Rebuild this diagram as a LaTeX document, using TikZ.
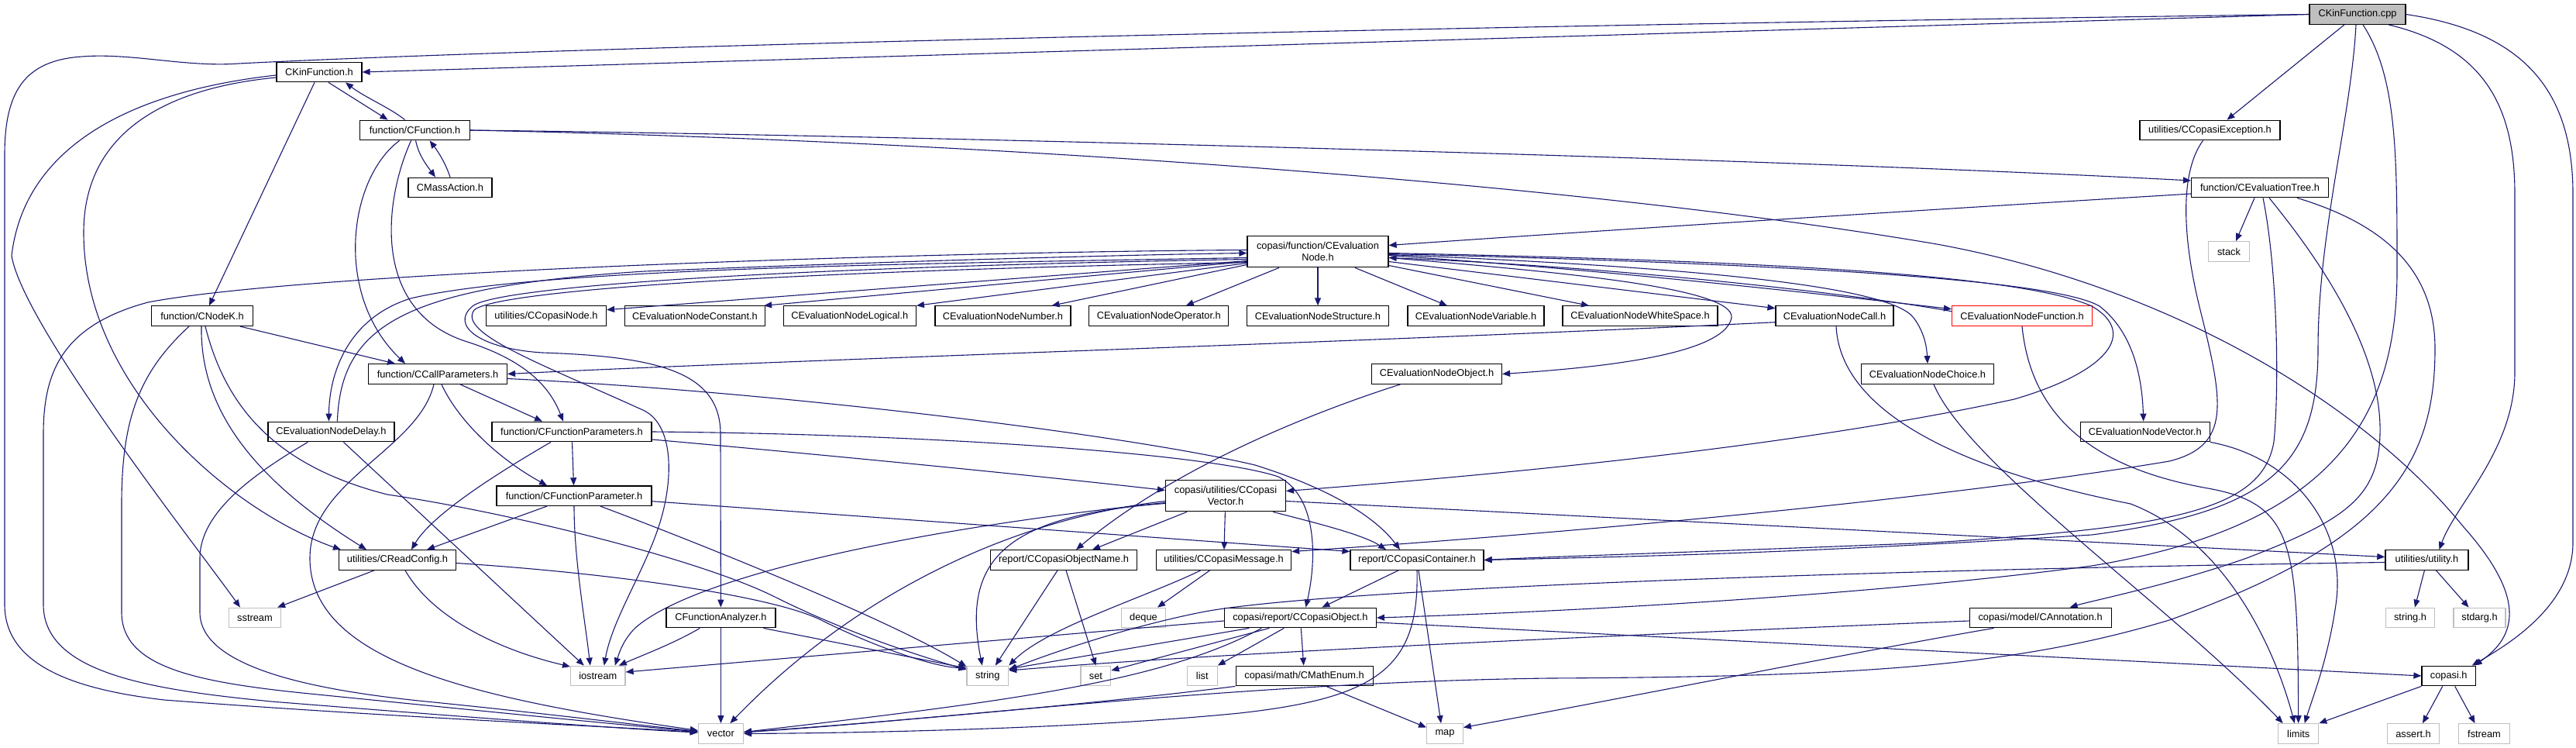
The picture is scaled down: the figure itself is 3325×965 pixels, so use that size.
\documentclass[tikz,border=0pt]{standalone}
\usepackage{fontspec}
\setmainfont{Liberation Sans}
\usetikzlibrary{arrows.meta}
\definecolor{edgec}{RGB}{25,25,112}
\definecolor{grayb}{RGB}{191,191,191}
\begin{document}
\begin{tikzpicture}[x=1pt,y=-1pt,
  nd/.style={draw=black, line width=1.2pt, inner sep=0pt, minimum height=25.6pt, font=\fontsize{12.8}{15}\selectfont, align=center},
  gr/.style={nd, draw=grayb},
  lnk/.style={draw=edgec, line width=1.1pt, -{Triangle[length=10pt,width=8pt]}}]
\useasboundingbox (0,0) rectangle (3325,965);
% nodes
\node[nd, fill=grayb, minimum width=124pt] (cpp) at (3043,18.5) {CKinFunction.cpp};
\node[nd, minimum width=110pt] (kinh) at (412,93) {CKinFunction.h};
\node[nd, minimum width=142pt] (cfun) at (535.6,168) {function/CFunction.h};
\node[nd, minimum width=108pt] (mass) at (581,242) {CMassAction.h};
\node[nd, minimum width=181pt] (exc) at (2852.5,168) {utilities/CCopasiException.h};
\node[nd, minimum width=177pt] (tree) at (2917,242) {function/CEvaluationTree.h};
\node[gr, minimum width=53pt] (stack) at (2877,324.5) {stack};
\node[nd, minimum width=182pt, minimum height=40.6pt] (enode) at (1701,324.5) {copasi/function/CEvaluation\\Node.h};
\node[nd, minimum width=131pt] (nodek) at (261,407.7) {function/CNodeK.h};
\node[nd, minimum width=155pt] (cnode) at (705,407.7) {utilities/CCopasiNode.h};
\node[nd, minimum width=181pt] (const) at (897,407.7) {CEvaluationNodeConstant.h};
\node[nd, minimum width=171pt] (logic) at (1096.8,407.7) {CEvaluationNodeLogical.h};
\node[nd, minimum width=175pt] (number) at (1294.4,407.7) {CEvaluationNodeNumber.h};
\node[nd, minimum width=180pt] (oper) at (1495.8,407.7) {CEvaluationNodeOperator.h};
\node[nd, minimum width=183pt] (struct) at (1701,407.7) {CEvaluationNodeStructure.h};
\node[nd, minimum width=176pt] (var) at (1905,407.7) {CEvaluationNodeVariable.h};
\node[nd, minimum width=200pt] (white) at (2117,407.7) {CEvaluationNodeWhiteSpace.h};
\node[nd, minimum width=152pt] (call) at (2368,407.7) {CEvaluationNodeCall.h};
\node[nd, draw=red, minimum width=181pt] (func) at (2610,407.7) {CEvaluationNodeFunction.h};
\node[nd, minimum width=179pt] (callp) at (565,482.5) {function/CCallParameters.h};
\node[nd, minimum width=168pt] (object) at (1854.5,482.5) {CEvaluationNodeObject.h};
\node[nd, minimum width=171pt] (choice) at (2488,482.5) {CEvaluationNodeChoice.h};
\node[nd, minimum width=163pt] (delay) at (427.4,557) {CEvaluationNodeDelay.h};
\node[nd, minimum width=206pt] (fparams) at (738,557) {function/CFunctionParameters.h};
\node[nd, minimum width=167pt] (vecnode) at (2768.7,557) {CEvaluationNodeVector.h};
\node[nd, minimum width=200pt] (fparam) at (741,639.7) {function/CFunctionParameter.h};
\node[nd, minimum width=155pt, minimum height=40.6pt] (cvector) at (1582,639.5) {copasi/utilities/CCopasi\\Vector.h};
\node[nd, minimum width=151pt] (readcfg) at (513,722.5) {utilities/CReadConfig.h};
\node[nd, minimum width=189pt] (objname) at (1373,722.5) {report/CCopasiObjectName.h};
\node[nd, minimum width=174pt] (message) at (1579.6,722.5) {utilities/CCopasiMessage.h};
\node[nd, minimum width=172pt] (container) at (1829,722.5) {report/CCopasiContainer.h};
\node[nd, minimum width=107pt] (utility) at (3132.4,722.5) {utilities/utility.h};
\node[gr, minimum width=67pt] (sstream) at (329,797) {sstream};
\node[nd, minimum width=141pt] (analyzer) at (930.4,797) {CFunctionAnalyzer.h};
\node[gr, minimum width=57pt] (deque) at (1476,797) {deque};
\node[nd, minimum width=196pt] (cobject) at (1678.4,797) {copasi/report/CCopasiObject.h};
\node[nd, minimum width=183pt] (annot) at (2633.6,797) {copasi/model/CAnnotation.h};
\node[gr, minimum width=63pt] (stringh) at (3111,797) {string.h};
\node[gr, minimum width=67pt] (stdarg) at (3200.5,797) {stdarg.h};
\node[gr, minimum width=70.5pt] (iostream) at (771.8,872) {iostream};
\node[gr, minimum width=53.6pt] (string) at (1274.8,872) {string};
\node[gr, minimum width=38.7pt] (set) at (1414.4,872) {set};
\node[gr, minimum width=38.7pt] (list) at (1551.8,872) {list};
\node[nd, minimum width=177pt] (mathenum) at (1683.6,872) {copasi/math/CMathEnum.h};
\node[nd, minimum width=69.5pt] (copasih) at (3160.7,872) {copasi.h};
\node[gr, minimum width=58pt] (vector) at (930.4,946.5) {vector};
\node[gr, minimum width=46.7pt] (map) at (1865,946.5) {map};
\node[gr, minimum width=52pt] (limits) at (2966.7,946.5) {limits};
\node[gr, minimum width=67pt] (assert) at (3115,946.5) {assert.h};
\node[gr, minimum width=66pt] (fstream) at (3206.5,946.5) {fstream};
% edges from CKinFunction.cpp
\draw[lnk] (cpp.west) -- (kinh.east);
\draw[lnk] (cpp.west) .. controls (1800,34) and (700,62) .. (308,82) .. controls (240,87) and (170,68) .. (106,73) .. controls (30,78) and (6,120) .. (6,200) -- (6,780) .. controls (6,860) and (100,890) .. (212,903) .. controls (500,925) and (800,938) .. (vector);
\draw[lnk] ([xshift=-17pt]cpp.south) -- ([xshift=22pt]exc.north);
\draw[lnk] ([xshift=-2pt]cpp.south) .. controls (3035,150) and (2992,300) .. (2992,450) .. controls (2992,600) and (2930,660) .. (2700,690) .. controls (2300,715) and (2100,718) .. (container.east);
\draw[lnk] ([xshift=7pt]cpp.south) .. controls (3094,100) and (3094,200) .. (3094,350) .. controls (3094,550) and (3000,680) .. (2700,730) .. controls (2400,770) and (2000,790) .. (cobject.east);
\draw[lnk] ([xshift=40pt]cpp.south) .. controls (3200,60) and (3246,130) .. (3246,250) -- (3246,480) .. controls (3246,580) and (3170,650) .. ([xshift=16pt]utility.north);
\draw[lnk] (cpp.east) .. controls (3250,40) and (3321,110) .. (3321,250) -- (3321,700) .. controls (3321,780) and (3240,830) .. ([xshift=30pt]copasih.north);
% CKinFunction.h / CFunction.h
\draw[lnk] ([xshift=12pt]kinh.south) -- ([xshift=-35pt]cfun.north);
\draw[lnk] ([xshift=-13pt]cfun.north) .. controls (505,140) and (470,125) .. ([xshift=34pt]kinh.south);
\draw[lnk] ([xshift=1pt]cfun.south) .. controls (540,200) and (552,215) .. ([xshift=-19pt]mass.north);
\draw[lnk] (mass.north) .. controls (575,210) and (565,195) .. ([xshift=19pt]cfun.south);
\draw[lnk] (cfun.east) .. controls (1200,175) and (2300,205) .. ([yshift=9pt]tree.west);
\draw[lnk] (cfun.east) .. controls (1200,180) and (2000,230) .. (2500,315) .. controls (2800,370) and (3050,520) .. (3180,680) .. controls (3260,770) and (3250,820) .. ([xshift=33pt]copasih.north);
\draw[lnk] ([xshift=-20pt]cfun.south) .. controls (450,230) and (430,380) .. ([xshift=-42pt]callp.north);
\draw[lnk] ([xshift=-5pt]cfun.south) .. controls (495,260) and (480,400) .. (600,440) .. controls (680,465) and (710,500) .. ([xshift=-11pt]fparams.north);
\draw[lnk] ([xshift=-6pt]kinh.south) -- ([xshift=9pt]nodek.north);
\draw[lnk] ([yshift=-4pt]kinh.west) .. controls (150,120) and (30,200) .. (15,330) .. controls (30,420) and (250,700) .. ([xshift=-19pt]sstream.north);
\draw[lnk] ([yshift=-7pt]kinh.west) .. controls (200,115) and (108,180) .. (108,300) .. controls (108,500) and (300,660) .. ([xshift=3pt]readcfg.north west);
% CNodeK
\draw[lnk] ([xshift=49pt]nodek.south) -- ([xshift=-55pt]callp.north);
\draw[lnk] ([xshift=-17pt]nodek.south) .. controls (180,480) and (157,540) .. (157,650) -- (157,790) .. controls (157,860) and (250,880) .. (400,895) .. controls (600,915) and (800,935) .. (vector);
\draw[lnk] ([xshift=-1pt]nodek.south) .. controls (258,530) and (330,620) .. ([xshift=-40pt]readcfg.north);
\draw[lnk] ([xshift=4pt]nodek.south) .. controls (290,520) and (350,600) .. (500,638) .. controls (650,660) and (900,720) .. (1000,770) .. controls (1100,820) and (1200,850) .. ([yshift=8pt]string.west);
% CCallParameters
\draw[lnk] ([xshift=29pt]callp.south) -- ([xshift=-38pt]fparams.north);
\draw[lnk] ([xshift=5pt]callp.south) .. controls (590,540) and (640,590) .. ([xshift=-35pt]fparam.north);
\draw[lnk] ([xshift=-5pt]callp.south) .. controls (540,580) and (400,620) .. (400,720) .. controls (400,850) and (600,900) .. (vector);
\draw[lnk] ([yshift=-6pt]callp.east) .. controls (1000,505) and (1450,560) .. (1620,600) .. controls (1700,625) and (1770,660) .. ([xshift=-22pt]container.north);
% CFunctionParameters / Parameter
\draw[lnk] (fparams) -- (fparam);
\draw[lnk] ([xshift=-27pt]fparams.south) .. controls (660,600) and (560,660) .. ([xshift=18pt]readcfg.north);
\draw[lnk] ([yshift=-10pt]fparams.east) .. controls (1100,590) and (1350,615) .. ([yshift=7pt]cvector.west);
\draw[lnk] (fparams.east) .. controls (1200,560) and (1560,585) .. (1650,615) .. controls (1700,640) and (1700,720) .. ([xshift=7pt]cobject.north);
\draw[lnk] ([xshift=-35pt]fparam.south) -- ([xshift=38pt]readcfg.north);
\draw[lnk] (fparam.south) .. controls (741,720) and (755,800) .. ([xshift=-10pt]iostream.north);
\draw[lnk] ([xshift=34pt]fparam.south) .. controls (900,700) and (1150,800) .. ([yshift=12pt]string.west);
\draw[lnk] ([yshift=-7pt]fparam.east) -- ([yshift=11pt]container.west);
% Delay
\draw[lnk] ([xshift=8pt]delay.north) .. controls (440,420) and (520,370) .. (832,350) .. controls (1200,335) and (1500,328) .. ([yshift=-2pt]enode.west);
\draw[lnk] ([yshift=-8pt]enode.west) .. controls (1200,340) and (700,345) .. (530,385) .. controls (450,410) and (425,480) .. ([xshift=-3pt]delay.north);
\draw[lnk] ([xshift=16pt]delay.south) -- ([xshift=-18pt]iostream.north);
\draw[lnk] ([xshift=-30pt]delay.south) .. controls (330,610) and (258,660) .. (258,720) -- (258,790) .. controls (258,860) and (400,890) .. (550,905) .. controls (700,920) and (820,935) .. (vector);
% CEvaluationNode left side
\draw[lnk] ([yshift=2pt]enode.west) .. controls (1200,325) and (400,350) .. (191,390) .. controls (80,420) and (56,480) .. (56,560) -- (56,780) .. controls (56,870) and (200,890) .. (350,905) .. controls (600,925) and (800,940) .. (vector);
\draw[lnk] ([yshift=-10pt]enode.west) .. controls (1000,345) and (640,370) .. (610,395) .. controls (580,420) and (620,450) .. (700,455) .. controls (850,460) and (930,480) .. (930,560) -- (analyzer);
\draw[lnk] ([yshift=-14pt]enode.west) .. controls (1000,350) and (640,375) .. (612,400) .. controls (590,430) and (700,470) .. (832,530) .. controls (870,550) and (870,620) .. (850,680) .. controls (830,740) and (790,800) .. ([xshift=8pt]iostream.north);
\draw[lnk] ([yshift=-12pt]enode.west) -- ([yshift=8pt]cnode.east);
\draw[lnk] ([yshift=-13pt]enode.west) -- ([xshift=-2pt]const.north east);
\draw[lnk] ([yshift=-15pt]enode.west) -- (logic.north east);
\draw[lnk] ([yshift=-17pt]enode.west) -- ([xshift=-25pt]number.north east);
\draw[lnk] ([xshift=-50pt]enode.south) -- ([xshift=35pt]oper.north);
\draw[lnk] (enode) -- (struct);
\draw[lnk] ([xshift=48pt]enode.south) -- ([xshift=-37pt]var.north);
% CEvaluationNode right side
\draw[lnk] ([yshift=-18pt]enode.east) -- ([xshift=-66pt]white.north);
\draw[lnk] ([yshift=-13pt]enode.east) -- ([yshift=10pt]call.west);
\draw[lnk] ([yshift=-5pt]enode.east) .. controls (2100,350) and (2400,385) .. ([yshift=9pt]func.west);
\draw[lnk] ([yshift=6pt]func.west) .. controls (2400,380) and (2100,345) .. ([yshift=-8pt]enode.east);
\draw[lnk] ([yshift=-2pt]enode.east) .. controls (2200,335) and (2600,350) .. (2700,395) .. controls (2760,430) and (2720,480) .. (2600,515) .. controls (2300,580) and (1900,615) .. ([yshift=6pt]cvector.east);
\draw[lnk] ([yshift=-3pt]enode.east) .. controls (2300,340) and (2650,360) .. (2710,395) .. controls (2755,430) and (2765,490) .. ([xshift=-2pt]vecnode.north);
\draw[lnk] ([yshift=-4pt]enode.east) .. controls (2200,345) and (2440,370) .. (2470,410) .. controls (2485,430) and (2487,450) .. (choice.north);
\draw[lnk] ([yshift=-8pt]enode.east) .. controls (2000,350) and (2240,370) .. (2235,410) .. controls (2225,460) and (2050,475) .. (object.east);
\draw[lnk] ([yshift=-8pt]tree.west) .. controls (2500,270) and (2100,295) .. ([yshift=8pt]enode.east);
% evaluation node types
\draw[lnk] ([yshift=-8pt]call.west) .. controls (1800,440) and (1000,465) .. (callp.east);
\draw[lnk] ([xshift=2pt]call.south) .. controls (2375,520) and (2500,600) .. (2750,650) .. controls (2880,700) and (2940,850) .. ([xshift=-5pt]limits.north);
\draw[lnk] (func.south) .. controls (2620,520) and (2680,600) .. (2850,630) .. controls (2960,650) and (2966,700) .. (limits);
\draw[lnk] ([xshift=8pt]choice.south) .. controls (2540,600) and (2800,780) .. ([xshift=-20pt]limits.north);
\draw[lnk] (vecnode.south east) .. controls (2960,590) and (3030,680) .. (3015,780) .. controls (3005,850) and (2985,900) .. ([xshift=8pt]limits.north);
\draw[lnk] ([xshift=-47pt]object.south) .. controls (1700,530) and (1520,600) .. ([xshift=16pt]objname.north);
% exception, tree
\draw[lnk] ([xshift=-9pt]exc.south) .. controls (2815,220) and (2815,300) .. (2840,400) .. controls (2870,520) and (2880,575) .. (2800,595) .. controls (2500,645) and (2000,690) .. ([yshift=11pt]message.east);
\draw[lnk] ([xshift=-7pt]tree.south) -- ([xshift=9pt]stack.north);
\draw[lnk] ([xshift=4pt]tree.south) .. controls (2940,350) and (2942,500) .. (2935,570) .. controls (2920,660) and (2800,680) .. (2496,700) .. controls (2200,712) and (2000,718) .. (container.east);
\draw[lnk] ([xshift=12pt]tree.south) .. controls (2990,330) and (3075,450) .. (3072,560) .. controls (3070,640) and (3030,670) .. (2900,720) .. controls (2800,755) and (2700,775) .. ([xshift=38pt]annot.north);
\draw[lnk] ([xshift=48pt]tree.south) .. controls (3080,290) and (3143,350) .. (3143,450) .. controls (3143,600) and (3080,700) .. (2800,800) .. controls (2600,860) and (2400,873) .. (2000,875) .. controls (1600,880) and (1200,930) .. (vector);
% CReadConfig, analyzer
\draw[lnk] ([xshift=-30pt]readcfg.south) -- ([xshift=-5pt]sstream.north east);
\draw[lnk] ([xshift=10pt]readcfg.south) .. controls (560,800) and (650,840) .. ([yshift=12pt]iostream.west);
\draw[lnk] ([yshift=-4pt]readcfg.east) .. controls (800,740) and (1000,770) .. (1060,800) .. controls (1120,830) and (1200,860) .. ([yshift=10pt]string.west);
\draw[lnk] (analyzer) -- (vector);
\draw[lnk] ([xshift=55pt]analyzer.south) -- ([yshift=10pt]string.west);
\draw[lnk] ([xshift=-27pt]analyzer.south) .. controls (870,830) and (830,845) .. ([xshift=27pt]iostream.north);
% CCopasiVector
\draw[lnk] ([xshift=-50pt]cvector.south) -- ([xshift=37pt]objname.north);
\draw[lnk] (cvector) -- (message);
\draw[lnk] ([xshift=-17pt]cvector.south east) .. controls (1700,675) and (1760,690) .. ([xshift=-40pt]container.north);
\draw[lnk] ([yshift=-7pt]cvector.east) -- ([yshift=4pt]utility.west);
\draw[lnk] ([yshift=-10pt]cvector.west) .. controls (1300,665) and (1240,720) .. ([xshift=-7pt]string.north);
\draw[lnk] ([yshift=-7pt]cvector.west) .. controls (1300,670) and (1100,770) .. ([xshift=12pt]vector.north);
\draw[lnk] ([yshift=-9pt]cvector.west) .. controls (1200,680) and (900,740) .. (820,810) .. controls (805,825) and (800,840) .. ([xshift=22pt]iostream.north);
% object name, message, container
\draw[lnk] ([xshift=-8pt]objname.south) -- ([xshift=10pt]string.north);
\draw[lnk] ([xshift=3pt]objname.south) -- (set.north);
\draw[lnk] ([xshift=-18pt]message.south) -- ([xshift=18pt]deque.north);
\draw[lnk] ([xshift=-30pt]message.south) .. controls (1480,770) and (1350,810) .. (string.north east);
\draw[lnk] ([xshift=-24pt]container.south) -- ([xshift=28pt]cobject.north);
\draw[lnk] ([xshift=2pt]container.south) -- ([xshift=-5pt]map.north);
\draw[lnk] (container.south) .. controls (1832,860) and (1780,900) .. (1600,920) .. controls (1400,940) and (1100,946) .. (vector);
% CCopasiObject
\draw[lnk] ([xshift=-66pt]cobject.south) -- ([yshift=9pt]string.east);
\draw[lnk] ([xshift=-40pt]cobject.south) -- ([yshift=7pt]set.east);
\draw[lnk] ([xshift=-21pt]cobject.south) -- (list.north east);
\draw[lnk] (cobject) -- (mathenum);
\draw[lnk] ([xshift=-50pt]cobject.south) .. controls (1500,880) and (1300,905) .. ([yshift=2pt]vector.east);
\draw[lnk] ([yshift=-4pt]cobject.west) -- ([yshift=5pt]iostream.east);
\draw[lnk] ([yshift=-6pt]cobject.east) -- (copasih.west);
\draw[lnk] ([xshift=28pt]mathenum.south) -- ([yshift=8pt]map.west);
\draw[lnk] (mathenum.south west) .. controls (1400,910) and (1100,935) .. (vector);
% annotation, utility, copasi.h
\draw[lnk] ([yshift=-4pt]annot.west) .. controls (2200,815) and (1600,840) .. ([yshift=7pt]string.east);
\draw[lnk] ([xshift=-60pt]annot.south) .. controls (2400,840) and (2100,900) .. ([yshift=8pt]map.east);
\draw[lnk] ([xshift=-3pt]utility.south) -- ([xshift=6pt]stringh.north);
\draw[lnk] ([xshift=12pt]utility.south) -- ([xshift=-14pt]stdarg.north);
\draw[lnk] ([yshift=-3pt]utility.west) .. controls (2400,735) and (1700,760) .. (1550,790) .. controls (1450,810) and (1350,845) .. ([yshift=8pt]string.east);
\draw[lnk] (copasih.south west) -- (limits.north east);
\draw[lnk] ([xshift=-8pt]copasih.south) -- ([xshift=12pt]assert.north);
\draw[lnk] ([xshift=8pt]copasih.south) -- ([xshift=-12pt]fstream.north);
\end{tikzpicture}
\end{document}
